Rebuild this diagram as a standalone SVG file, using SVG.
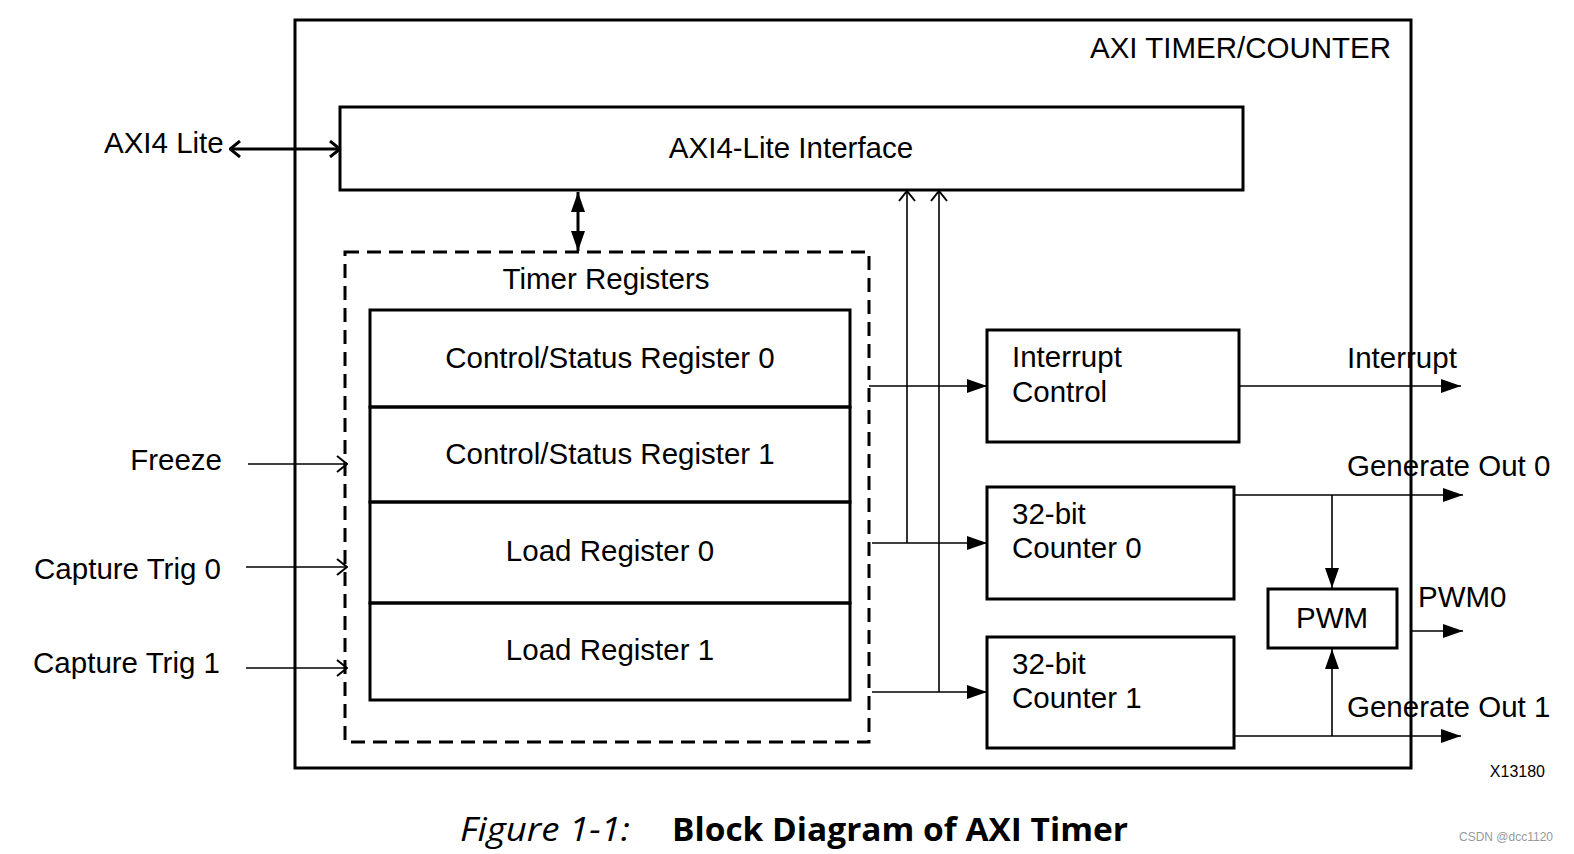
<svg xmlns="http://www.w3.org/2000/svg" width="1574" height="854" viewBox="0 0 1574 854">
<style>
.t{font-family:"Liberation Sans",Arial,sans-serif;font-size:29.5px;fill:#000}
.box{fill:none;stroke:#000;stroke-width:3}
.ln{fill:none;stroke:#000;stroke-width:1.6}
.cap{font-family:"Open Sans","Noto Sans",sans-serif;font-size:33px;fill:#000}
</style>
<defs>
<marker id="fa" viewBox="0 0 20 14" refX="20" refY="7" markerWidth="20" markerHeight="14" markerUnits="userSpaceOnUse" orient="auto-start-reverse"><path d="M0,0 L20,7 L0,14 Z" fill="#000"/></marker>
<marker id="oa" viewBox="0 0 12 18" refX="11" refY="9" markerWidth="12" markerHeight="18" markerUnits="userSpaceOnUse" orient="auto-start-reverse"><path d="M1,1 L11,9 L1,17" fill="none" stroke="#000" stroke-width="2"/></marker>
<marker id="oa2" viewBox="0 0 12 18" refX="11" refY="9" markerWidth="12" markerHeight="18" markerUnits="userSpaceOnUse" orient="auto-start-reverse"><path d="M1,1 L11,9 L1,17" fill="none" stroke="#000" stroke-width="3"/></marker>
</defs>
<rect width="1574" height="854" fill="#fff"/>

<g id="outer">
<rect class="box" x="295" y="20" width="1116" height="748"/>
<text class="t" x="1391" y="58" text-anchor="end">AXI TIMER/COUNTER</text>
</g>

<g id="axi-if">
<rect class="box" x="340" y="107" width="903" height="83"/>
<text class="t" x="791" y="158" text-anchor="middle">AXI4-Lite Interface</text>
</g>

<g id="timer-registers">
<rect x="345" y="252" width="524" height="490" fill="none" stroke="#000" stroke-width="3" stroke-dasharray="14,8"/>
<text class="t" x="606" y="289" text-anchor="middle">Timer Registers</text>
</g>
<g id="csr0"><rect class="box" x="370" y="310" width="480" height="97"/><text class="t" x="610" y="368" text-anchor="middle">Control/Status Register 0</text></g>
<g id="csr1"><rect class="box" x="370" y="407" width="480" height="95"/><text class="t" x="610" y="464" text-anchor="middle">Control/Status Register 1</text></g>
<g id="load0"><rect class="box" x="370" y="502" width="480" height="101"/><text class="t" x="610" y="561" text-anchor="middle">Load Register 0</text></g>
<g id="load1"><rect class="box" x="370" y="603" width="480" height="97"/><text class="t" x="610" y="660" text-anchor="middle">Load Register 1</text></g>

<g id="interrupt-control">
<rect class="box" x="987" y="330" width="252" height="112"/>
<text class="t" x="1012" y="367">Interrupt</text>
<text class="t" x="1012" y="402">Control</text>
</g>
<g id="counter0">
<rect class="box" x="987" y="487" width="247" height="112"/>
<text class="t" x="1012" y="524">32-bit</text>
<text class="t" x="1012" y="558">Counter 0</text>
</g>
<g id="counter1">
<rect class="box" x="987" y="637" width="247" height="111"/>
<text class="t" x="1012" y="674">32-bit</text>
<text class="t" x="1012" y="708">Counter 1</text>
</g>
<g id="pwm">
<rect class="box" x="1268" y="589" width="129" height="59"/>
<text class="t" x="1332" y="628" text-anchor="middle">PWM</text>
</g>

<g id="connectors">
<line x1="230" y1="149" x2="340" y2="149" stroke="#000" stroke-width="3" marker-start="url(#oa2)" marker-end="url(#oa2)"/>
<line x1="578" y1="192" x2="578" y2="251" stroke="#000" stroke-width="3" marker-start="url(#fa)" marker-end="url(#fa)"/>
<line class="ln" x1="907" y1="543" x2="907" y2="191" marker-end="url(#oa)"/>
<line class="ln" x1="939" y1="692" x2="939" y2="191" marker-end="url(#oa)"/>
<line class="ln" x1="248" y1="464" x2="347" y2="464" marker-end="url(#oa)"/>
<line class="ln" x1="246" y1="567" x2="347" y2="567" marker-end="url(#oa)"/>
<line class="ln" x1="246" y1="668" x2="347" y2="668" marker-end="url(#oa)"/>
<line class="ln" x1="869" y1="386" x2="987" y2="386" marker-end="url(#fa)"/>
<line class="ln" x1="872" y1="543" x2="987" y2="543" marker-end="url(#fa)"/>
<line class="ln" x1="872" y1="692" x2="987" y2="692" marker-end="url(#fa)"/>
<line class="ln" x1="1239" y1="386" x2="1461" y2="386" marker-end="url(#fa)"/>
<line class="ln" x1="1234" y1="495" x2="1463" y2="495" marker-end="url(#fa)"/>
<line class="ln" x1="1332" y1="495" x2="1332" y2="588" marker-end="url(#fa)"/>
<line class="ln" x1="1234" y1="736" x2="1461" y2="736" marker-end="url(#fa)"/>
<line class="ln" x1="1332" y1="736" x2="1332" y2="649" marker-end="url(#fa)"/>
<line class="ln" x1="1411" y1="631" x2="1463" y2="631" marker-end="url(#fa)"/>
</g>

<g id="labels">
<text class="t" x="104" y="153">AXI4 Lite</text>
<text class="t" x="222" y="470" text-anchor="end">Freeze</text>
<text class="t" x="221" y="579" text-anchor="end">Capture Trig 0</text>
<text class="t" x="220" y="673" text-anchor="end">Capture Trig 1</text>
<text class="t" x="1347" y="368">Interrupt</text>
<text class="t" x="1347" y="476">Generate Out 0</text>
<text class="t" x="1418" y="607">PWM0</text>
<text class="t" x="1347" y="717">Generate Out 1</text>
<text x="1545" y="777" text-anchor="end" font-family="Liberation Sans,Arial,sans-serif" font-size="16">X13180</text>
</g>

<g id="caption">
<text class="cap" x="460" y="841" font-style="italic" textLength="170" lengthAdjust="spacingAndGlyphs">Figure 1-1:</text>
<text class="cap" x="672" y="841" font-weight="bold" textLength="456" lengthAdjust="spacingAndGlyphs">Block Diagram of AXI Timer</text>
<text x="1553" y="841" text-anchor="end" font-family="Liberation Sans,Arial,sans-serif" font-size="12" fill="#999">CSDN @dcc1120</text>
</g>
</svg>
